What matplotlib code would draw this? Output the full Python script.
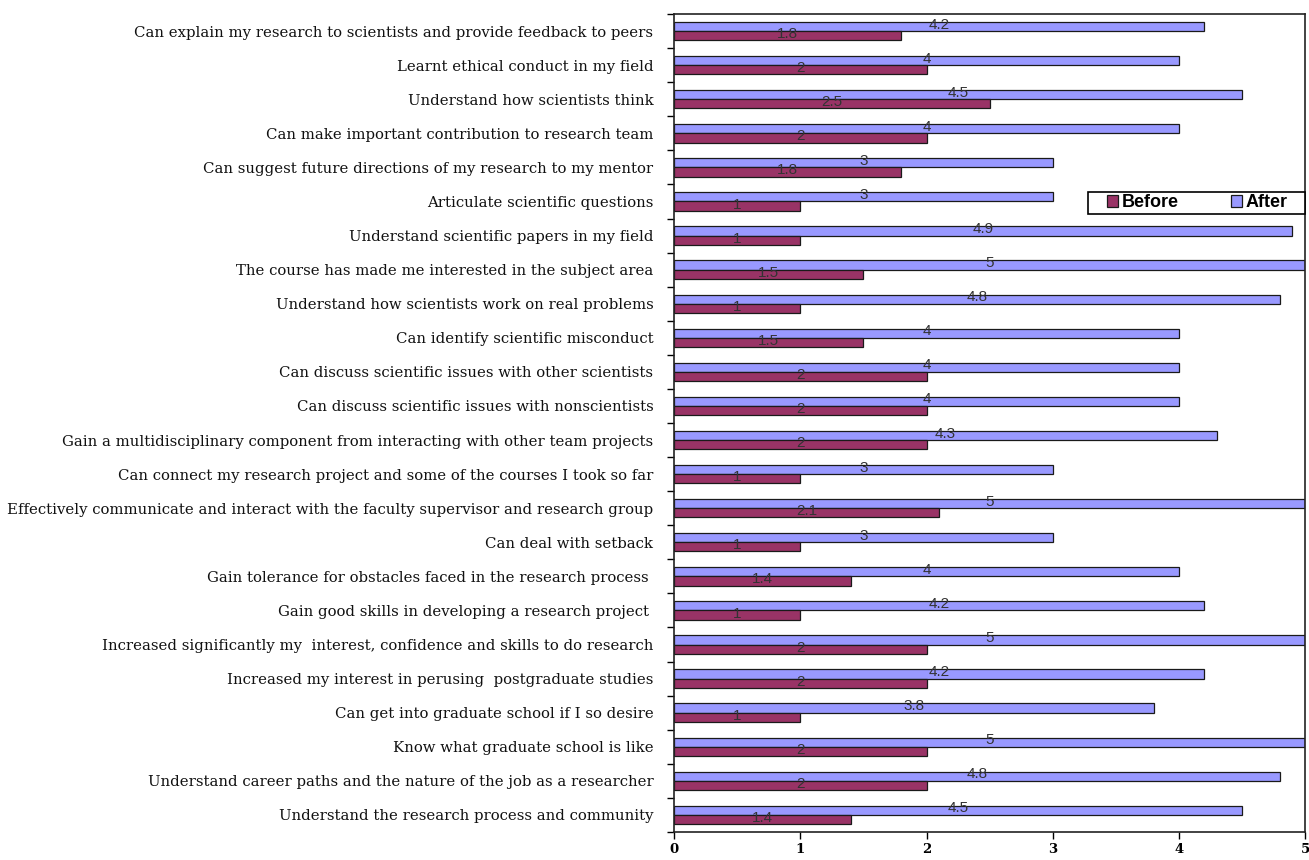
import matplotlib
matplotlib.use("Agg")
import matplotlib.pyplot as plt
from matplotlib.patches import Rectangle
from matplotlib.ticker import FixedLocator
import numpy as np

categories = [
    "Can explain my research to scientists and provide feedback to peers",
    "Learnt ethical conduct in my field",
    "Understand how scientists think",
    "Can make important contribution to research team",
    "Can suggest future directions of my research to my mentor",
    "Articulate scientific questions",
    "Understand scientific papers in my field",
    "The course has made me interested in the subject area",
    "Understand how scientists work on real problems",
    "Can identify scientific misconduct",
    "Can discuss scientific issues with other scientists",
    "Can discuss scientific issues with nonscientists",
    "Gain a multidisciplinary component from interacting with other team projects",
    "Can connect my research project and some of the courses I took so far",
    "Effectively communicate and interact with the faculty supervisor and research group",
    "Can deal with setback",
    "Gain tolerance for obstacles faced in the research process ",
    "Gain good skills in developing a research project ",
    "Increased significantly my  interest, confidence and skills to do research",
    "Increased my interest in perusing  postgraduate studies",
    "Can get into graduate school if I so desire",
    "Know what graduate school is like",
    "Understand career paths and the nature of the job as a researcher",
    "Understand the research process and community",
]
before = [1.8, 2, 2.5, 2, 1.8, 1, 1, 1.5, 1, 1.5, 2, 2, 2, 1, 2.1, 1, 1.4, 1, 2, 2, 1, 2, 2, 1.4]
after = [4.2, 4, 4.5, 4, 3, 3, 4.9, 5, 4.8, 4, 4, 4, 4.3, 3, 5, 3, 4, 4.2, 5, 4.2, 3.8, 5, 4.8, 4.5]
x_ticks = [0, 1, 2, 3, 4, 5]

fig = plt.figure(figsize=(13.09, 8.6), dpi=100)
ax = fig.add_axes([0.515, 0.0326, 0.482, 0.9511])

y = np.arange(len(categories))
h = 0.27
ax.barh(y - h / 2, after, height=h, color="#9999FF", edgecolor="#1a1a1a",
        linewidth=0.9, label="After", zorder=2)
ax.barh(y + h / 2, before, height=h, color="#993366", edgecolor="#1a1a1a",
        linewidth=0.9, label="Before", zorder=2)

for yi, a, b in zip(y, after, before):
    ax.text(a / 2, yi - h + 0.08, f"{a:g}", ha="center", va="center",
            fontsize=11, color="#333333", family="Liberation Sans", zorder=3)
    ax.text(b / 2, yi + 0.09, f"{b:g}", ha="center", va="center",
            fontsize=11, color="#333333", family="Liberation Sans", zorder=3)

ax.set_xlim(0, 5)
ax.set_ylim(len(categories) - 0.5, -0.5)
ax.set_xticks(x_ticks)
ax.set_xticklabels([str(t) for t in x_ticks], fontsize=9.5, fontweight="bold",
                   family="DejaVu Serif")
ax.set_yticks(y)
ax.set_yticklabels(categories, fontsize=10.7, family="DejaVu Serif",
                   color="#111111")
ax.yaxis.set_minor_locator(FixedLocator(np.arange(-0.5, len(categories), 1.0)))
ax.tick_params(axis="y", which="major", length=0, pad=15)
ax.tick_params(axis="y", which="minor", length=5, width=1, direction="out")
ax.tick_params(axis="x", length=5, width=1, direction="out", pad=3)

for s in ax.spines.values():
    s.set_linewidth(1.2)
    s.set_color("#222222")

# legend box spanning to the right spine, with the entries centred inside
ax.add_patch(Rectangle((0.656, 0.7555), 0.344, 0.027, transform=ax.transAxes,
                       facecolor="white", edgecolor="black", linewidth=1.2,
                       zorder=4, clip_on=False))
handles, labels = ax.get_legend_handles_labels()
leg = ax.legend(handles[::-1], labels[::-1], ncol=2, loc="center",
                bbox_to_anchor=(0.8297, 0.769), frameon=False,
                handlelength=0.6, handleheight=0.6, columnspacing=2.9,
                handletextpad=0.2, borderpad=0.0, borderaxespad=0.0,
                prop={"family": "Liberation Sans", "size": 13, "weight": "bold"})
leg.set_zorder(5)

fig.savefig("out.png", dpi=100)
